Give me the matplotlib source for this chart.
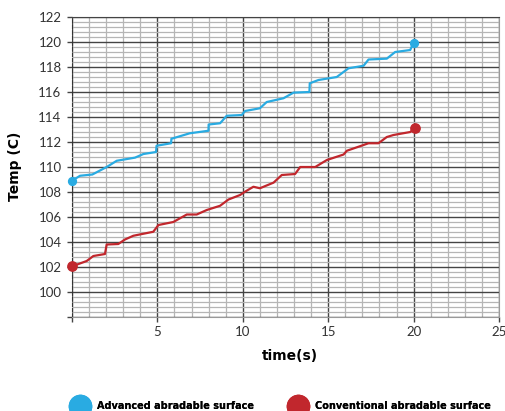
import matplotlib
matplotlib.use('Agg')
import matplotlib.pyplot as plt
from matplotlib.lines import Line2D
from matplotlib.ticker import MultipleLocator

plt.rcParams['font.family'] = ['Lato', 'DejaVu Sans']

# (vertical jumps = repeated x)
adv_time = [0, 0.47, 1.19, 2.03, 2.62, 3.69, 4.18, 4.92, 4.95, 5.8, 5.82, 6.9, 7.99, 8.0,
            8.67, 9.06, 9.94, 10.13, 11.0, 11.4, 12.38, 12.97, 13.9, 13.92, 14.43, 15.5,
            16.19, 17.07, 17.36, 18.43, 18.92, 19.8, 20.0]
adv_temp = [108.9, 109.3, 109.4, 110.0, 110.5, 110.75, 111.04, 111.2, 111.7, 111.9, 112.26,
            112.7, 112.9, 113.4, 113.5, 114.1, 114.16, 114.48, 114.7, 115.2, 115.5, 115.95,
            116.0, 116.7, 116.96, 117.2, 117.9, 118.1, 118.6, 118.67, 119.2, 119.36, 119.95]

conv_time = [0, 0.86, 1.25, 1.93, 2.03, 2.71, 3.1, 3.59, 4.76, 5.06, 5.93, 6.72, 7.3, 7.89,
             8.67, 9.16, 9.84, 10.1, 10.62, 11.0, 11.8, 12.28, 13.06, 13.36, 14.24, 14.92,
             15.9, 16.09, 17.36, 17.94, 18.43, 18.82, 19.8, 20.1]
conv_temp = [102.05, 102.48, 102.88, 103.04, 103.8, 103.84, 104.2, 104.5, 104.82, 105.36,
             105.6, 106.2, 106.2, 106.56, 106.9, 107.4, 107.76, 108.0, 108.42, 108.3, 108.75,
             109.36, 109.44, 110.0, 110.0, 110.56, 111.0, 111.3, 111.9, 111.9, 112.4, 112.56,
             112.8, 113.15]

series_names = ['Advanced abradable surface', 'Conventional abradable surface']

blue = '#29abe2'
red = '#c1272d'

fig = plt.figure(figsize=(5.06, 4.11), dpi=100)
ax = fig.add_axes([0.1423, 0.2287, 0.8439, 0.7299])

ax.plot(adv_time, adv_temp, color=blue, lw=1.6, zorder=3)
ax.plot(conv_time, conv_temp, color=red, lw=1.6, zorder=3)
ax.scatter([adv_time[0], adv_time[-1]], [adv_temp[0], adv_temp[-1]], s=32, color=blue, zorder=4, clip_on=False)
ax.scatter([conv_time[0], conv_time[-1]], [conv_temp[0], conv_temp[-1]], s=45, color=red, zorder=4, clip_on=False)

ax.set_xlim(0, 25)
ax.set_ylim(98, 122)
ax.xaxis.set_minor_locator(MultipleLocator(1))
ax.yaxis.set_minor_locator(MultipleLocator(0.4))
ax.grid(which='minor', color='#b5b5b5', lw=0.9)
ax.grid(which='major', color='#444444', lw=1.0)
ax.set_axisbelow(True)

ax.set_xticks([0, 5, 10, 15, 20, 25])
ax.set_xticklabels(['', '5', '10', '15', '20', '25'])
ax.set_yticks(range(98, 123, 2))
ax.set_yticklabels([''] + [str(v) for v in range(100, 123, 2)])
ax.tick_params(which='major', length=3.5, width=1, color='#444444', labelsize=9.5, labelcolor='#333333', pad=4)
ax.tick_params(axis='x', pad=3)
ax.tick_params(which='minor', length=0)

ax.spines['left'].set_linestyle((0, (3, 2)))
ax.spines['left'].set_color('#333333')
ax.spines['bottom'].set_color('#999999')
ax.spines['top'].set_color('#444444')
ax.spines['right'].set_color('#999999')

ax.set_xlabel('time(s)', fontsize=10, fontweight='bold', family='DejaVu Sans')
ax.set_ylabel('Temp (C)', fontsize=10, fontweight='bold', family='DejaVu Sans')
ax.xaxis.set_label_coords(0.51, -0.105)
ax.yaxis.set_label_coords(-0.118, 0.503)

colors = [blue, red]
anchors = [0.148, 0.579]
for name, col, xa in zip(series_names, colors, anchors):
    h = Line2D([], [], ls='', marker='o', markersize=16, color=col)
    leg = fig.legend([h], [name], loc='center left', bbox_to_anchor=(xa, 0.012),
                     frameon=False, borderpad=0, borderaxespad=0, handlelength=1.0,
                     handletextpad=1.3, prop={'weight': 'bold', 'size': 7, 'family': 'DejaVu Sans'})
    fig.add_artist(leg)

fig.savefig('out.png', dpi=100)
